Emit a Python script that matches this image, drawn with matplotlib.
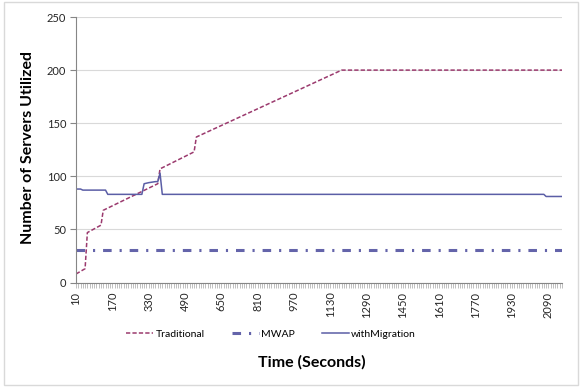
import matplotlib.pyplot as plt
from matplotlib.patches import Rectangle

# breakpoints (seconds, servers)
trad_time = [10, 50, 60, 120, 130, 370, 380, 530, 540, 1180, 2150]
trad_servers = [8, 13, 47, 54, 68, 93, 107, 123, 137, 200, 200]

mwap_time = [10, 2150]
mwap_servers = [31, 31]

mig_time = [10, 30, 40, 140, 150, 300, 310, 330, 360, 370, 380, 390, 2070, 2080, 2150]
mig_servers = [88, 88, 87, 87, 83, 83, 93, 94, 95, 95, 103, 83, 83, 81, 81]

x_ticks = list(range(10, 2091, 160))
y_ticks = [0, 50, 100, 150, 200, 250]

plt.rcParams['font.family'] = ['Lato', 'DejaVu Sans']

fig = plt.figure(figsize=(5.82, 3.87), dpi=100)
ax = fig.add_axes([76 / 582, 1 - 282.5 / 387, (562 - 76) / 582, (282.5 - 17) / 387])

ax.plot(trad_time, trad_servers, color='#9b3a6e', lw=1.1, dashes=(2.8, 1.4),
        label='Traditional')
ax.plot(mwap_time, mwap_servers, color='#6464aa', lw=2.2,
        dashes=(2.8, 2.6, 0.7, 2.6), dash_capstyle='butt', label='MWAP')
ax.plot(mig_time, mig_servers, color='#5b5ea6', lw=1.1, label='withMigration')

ax.set_xlim(10, 2150)
ax.set_ylim(0, 250)
ax.set_yticks(y_ticks)
ax.set_xticks(x_ticks)
ax.set_xticks(range(10, 2151, 10), minor=True)
ax.set_xticklabels([str(t) for t in x_ticks], rotation=90)

ax.grid(axis='y', color='#d9d9d9', lw=0.8)
ax.set_axisbelow(True)
for s in ['top', 'right']:
    ax.spines[s].set_visible(False)
for s in ['left', 'bottom']:
    ax.spines[s].set_color('#868686')
    ax.spines[s].set_linewidth(0.8)

ax.tick_params(axis='y', length=4, color='#868686', labelsize=8, labelcolor='#262626', pad=3)
ax.tick_params(axis='x', which='both', length=3.5, width=0.5, color='#a6a6a6',
               labelsize=8, labelcolor='#262626', pad=3)

fig.text(28 / 582, 1 - 148 / 387, 'Number of Servers Utilized', fontsize=11.5,
         fontweight='bold', rotation=90, ha='center', va='center')
fig.text(312 / 582, 1 - 362 / 387, 'Time (Seconds)', fontsize=11.5, fontweight='bold',
         ha='center', va='center')

fig.legend(loc='center', bbox_to_anchor=(271 / 582, 1 - 334 / 387), ncol=3, frameon=False,
           fontsize=7.5, handlelength=2.6, handletextpad=0.2, columnspacing=2.6)

fig.patches.append(Rectangle((4 / 582, 2 / 387), 574 / 582, 383 / 387, transform=fig.transFigure,
                             fill=False, edgecolor='#d9d9d9', lw=1))

fig.savefig('out.png', dpi=100)
